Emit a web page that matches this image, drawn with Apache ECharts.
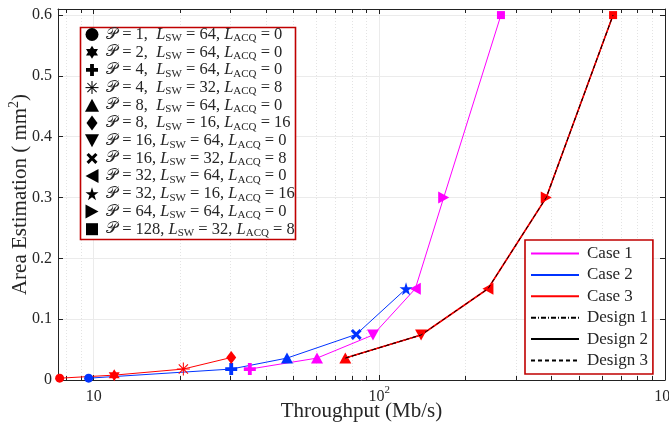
<!DOCTYPE html>
<html>
<head>
<meta charset="utf-8">
<script src="https://cdn.jsdelivr.net/npm/echarts@6/dist/echarts.min.js"></script>
<style>
html,body{margin:0;padding:0;background:#fff;}
#chart{width:669px;height:426px;}
</style>
</head>
<body>
<div id="chart"></div>
<script>
// ---------------- data ----------------
const case1X = [35.2, 60.5, 95, 133.6, 168, 266.5];
const case1Y = [0.018, 0.036, 0.074, 0.15, 0.3, 0.6];
const case1Sym = ['plus', 'triUp', 'triDown', 'triLeft', 'triRight', 'square'];

const case2X = [9.6, 30.3, 47.5, 83, 124];
const case2Y = [0.003, 0.018, 0.036, 0.075, 0.15];
const case2Sym = ['circle', 'plus', 'triUp', 'cross', 'star5'];

const case3aX = [7.6, 11.8, 20.6, 30.3];
const case3aY = [0.003, 0.008, 0.018, 0.037];
const case3aSym = ['circle', 'hexagram', 'asterisk', 'diamond'];

const case3bX = [76, 140, 240, 384, 658];
const case3bY = [0.036, 0.074, 0.15, 0.3, 0.6];
const case3bSym = ['triUp', 'triDown', 'triLeft', 'triRight', 'square'];

const designX = [76, 140, 240, 384, 658];
const designY = [0.036, 0.074, 0.15, 0.3, 0.6];

const legendP = [1, 2, 4, 4, 8, 8, 16, 16, 32, 32, 64, 128];
const legendSW = [64, 64, 64, 32, 64, 16, 64, 32, 64, 16, 64, 32];
const legendACQ = [0, 0, 0, 8, 0, 16, 0, 8, 0, 16, 0, 8];
const legendSym = ['circle', 'hexagram', 'plus', 'asterisk', 'triUp', 'diamond', 'triDown', 'cross', 'triLeft', 'star5', 'triRight', 'square'];

const lineNames = ['Case 1', 'Case 2', 'Case 3', 'Design 1', 'Design 2', 'Design 3'];
const yTicks = [0, 0.1, 0.2, 0.3, 0.4, 0.5, 0.6];
const xMinorTicks = [8, 9, 20, 30, 40, 50, 60, 70, 80, 90, 200, 300, 400, 500, 600, 700, 800, 900];

// ---------------- styling ----------------
const SERIF = "'Liberation Serif','DejaVu Serif',serif";
const TXT = '#262626';
const C1 = '#ff00ff', C2 = '#0033ff', C3 = '#ff0000';
const X_MIN = 7.5, X_MAX = 1000, Y_MIN = 0, Y_MAX = 0.61;

// marker shapes as polygons in a [-1,1] box (circle handled separately)
const SYM = {
  circle:   { polys: null, plot: [9, 9], leg: [13, 13] },
  hexagram: { polys: [[[0,-1],[0.289,-0.5],[0.866,-0.5],[0.577,0],[0.866,0.5],[0.289,0.5],[0,1],[-0.289,0.5],[-0.866,0.5],[-0.577,0],[-0.866,-0.5],[-0.289,-0.5]]], plot: [11, 12], leg: [12, 13] },
  plus:     { polys: [[[-0.32,-1],[0.32,-1],[0.32,-0.32],[1,-0.32],[1,0.32],[0.32,0.32],[0.32,1],[-0.32,1],[-0.32,0.32],[-1,0.32],[-1,-0.32],[-0.32,-0.32]]], plot: [12, 12], leg: [12, 12] },
  asterisk: { polys: [
      [[-0.08,-1],[0.08,-1],[0.08,1],[-0.08,1]],
      [[-1,-0.08],[1,-0.08],[1,0.08],[-1,0.08]],
      [[-0.651,-0.764],[0.764,0.651],[0.651,0.764],[-0.764,-0.651]],
      [[-0.764,0.651],[0.651,-0.764],[0.764,-0.651],[-0.651,0.764]]
    ], plot: [13, 13], leg: [13, 13] },
  triUp:    { polys: [[[0,-1],[1,1],[-1,1]]], plot: [12, 11], leg: [14, 13] },
  triDown:  { polys: [[[-1,-1],[1,-1],[0,1]]], plot: [12, 11], leg: [14, 13] },
  triLeft:  { polys: [[[1,-1],[1,1],[-1,0]]], plot: [11, 12], leg: [13, 14] },
  triRight: { polys: [[[-1,-1],[1,0],[-1,1]]], plot: [11, 12], leg: [13, 14] },
  diamond:  { polys: [[[0,-1],[1,0],[0,1],[-1,0]]], plot: [10, 13], leg: [11, 15] },
  cross:    { polys: [[[-1,-0.6],[-0.6,-1],[0,-0.4],[0.6,-1],[1,-0.6],[0.4,0],[1,0.6],[0.6,1],[0,0.4],[-0.6,1],[-1,0.6],[-0.4,0]]], plot: [11, 11], leg: [11, 11] },
  star5:    { polys: [[[0,-1],[0.2245,-0.309],[0.951,-0.309],[0.363,0.118],[0.588,0.809],[0,0.382],[-0.588,0.809],[-0.363,0.118],[-0.951,-0.309],[-0.2245,-0.309]]], plot: [13, 13], leg: [13, 13] },
  square:   { polys: [[[-1,-1],[1,-1],[1,1],[-1,1]]], plot: [8, 8], leg: [12, 12] }
};

function symPath(name) {
  const s = SYM[name];
  if (!s.polys) return 'circle';
  return 'path://' + s.polys.map(p => 'M' + p.map(q => q[0] + ',' + q[1]).join('L') + 'Z').join(' ');
}

function pts(xs, ys, syms) {
  return xs.map((x, i) => {
    const item = { value: [x, ys[i]] };
    if (syms) {
      item.symbol = symPath(syms[i]);
      item.symbolSize = SYM[syms[i]].plot;
    }
    return item;
  });
}

function lineSeries(name, color, data, type, width, z) {
  return {
    name: name, type: 'line', data: data, symbol: 'none',
    xAxisIndex: 0, yAxisIndex: 0, z: z, animation: false,
    lineStyle: { color: color, width: width, type: type },
    itemStyle: { color: color, borderWidth: 0 },
    emphasis: { disabled: true }
  };
}

// ---------------- legend 1 (graphic) ----------------
const legTop = 34.5, legStep = 17.7, legMarkX = 92;
const legendGraphics = [{
  type: 'rect', shape: { x: 80.5, y: 27.5, width: 215, height: 212 },
  style: { fill: '#fff', stroke: '#c00000', lineWidth: 1.6 }, z: 100
}];
legendP.forEach((p, i) => {
  const cy = legTop + i * legStep;
  const s = SYM[legendSym[i]];
  const hw = s.leg[0] / 2, hh = s.leg[1] / 2;
  if (!s.polys) {
    legendGraphics.push({ type: 'circle', z: 101, shape: { cx: legMarkX, cy: cy, r: hw }, style: { fill: '#000' } });
  } else {
    let minX = 1e9, maxX = -1e9, minY = 1e9, maxY = -1e9;
    s.polys.forEach(pl => pl.forEach(q => {
      minX = Math.min(minX, q[0]); maxX = Math.max(maxX, q[0]);
      minY = Math.min(minY, q[1]); maxY = Math.max(maxY, q[1]);
    }));
    s.polys.forEach(pl => {
      legendGraphics.push({
        type: 'polygon', z: 101,
        shape: { points: pl.map(q => [legMarkX - hw + (q[0] - minX) / (maxX - minX) * 2 * hw, cy - hh + (q[1] - minY) / (maxY - minY) * 2 * hh]) },
        style: { fill: '#000' }
      });
    });
  }
  const txt = '{p|\uD835\uDCAB}{t| = ' + p + ',' + (p < 10 ? '  ' : ' ') + '}{i|L}{s|SW}{t| = ' + legendSW[i] + ', }{i|L}{s|ACQ}{t| = ' + legendACQ[i] + '}';
  legendGraphics.push({
    type: 'text', z: 101, x: 106, y: cy,
    style: {
      text: txt, verticalAlign: 'middle', fill: TXT,
      rich: {
        p: { fontFamily: "'DejaVu Serif','DejaVu Sans','Noto Sans',serif", fontSize: 15.5, lineHeight: 19, fill: TXT },
        t: { fontFamily: SERIF, fontSize: 16.5, lineHeight: 19, fill: TXT },
        i: { fontFamily: SERIF, fontStyle: 'italic', fontSize: 16.5, lineHeight: 19, fill: TXT },
        s: { fontFamily: SERIF, fontSize: 11, lineHeight: 19, verticalAlign: 'bottom', fill: TXT }
      }
    }
  });
});

// ---------------- chart ----------------
const chart = echarts.init(document.getElementById('chart'), null, { renderer: 'canvas' });

function crisp(v) { return Math.round(v) + 0.5; }

const option = {
  animation: false,
  backgroundColor: '#fff',
  grid: { left: 58, right: 4, top: 9, bottom: 46, containLabel: false, outerBoundsMode: 'none' },
  xAxis: [{
    type: 'log', logBase: 10, min: X_MIN, max: X_MAX, position: 'bottom',
    axisLine: { show: true, onZero: false, lineStyle: { color: '#222', width: 1 } },
    axisTick: { show: true, inside: true, length: 5, lineStyle: { color: '#222' } },
    splitLine: { show: true, lineStyle: { color: '#ebebeb', width: 1 } },
    axisLabel: {
      show: true, showMinLabel: false, margin: 5, color: TXT,
      formatter: function (v) {
        const e = Math.log10(v);
        if (Math.abs(e - Math.round(e)) > 1e-6) return '';
        const n = Math.round(e);
        return n === 1 ? '{n|10}' : '{n|10}{s|' + n + '}';
      },
      rich: {
        n: { fontFamily: SERIF, fontSize: 16, color: TXT, lineHeight: 20, verticalAlign: 'bottom' },
        s: { fontFamily: SERIF, fontSize: 11, color: TXT, lineHeight: 20, verticalAlign: 'top' }
      }
    },
    name: 'Throughput (Mb/s)', nameLocation: 'middle', nameGap: 21, nameMoveOverlap: false,
    nameTextStyle: { fontFamily: SERIF, fontSize: 21, color: TXT }
  }, {
    type: 'log', logBase: 10, min: X_MIN, max: X_MAX, position: 'top',
    axisLine: { show: true, onZero: false, lineStyle: { color: '#222', width: 1 } },
    axisTick: { show: true, inside: true, length: 5, lineStyle: { color: '#222' } },
    splitLine: { show: false }, axisLabel: { show: false }
  }],
  yAxis: [{
    type: 'value', min: Y_MIN, max: Y_MAX, interval: 0.1, position: 'left',
    axisLine: { show: true, onZero: false, lineStyle: { color: '#222', width: 1 } },
    axisTick: { show: true, inside: true, length: 5, lineStyle: { color: '#222' } },
    splitLine: { show: true, lineStyle: { color: '#ebebeb', width: 1 } },
    axisLabel: {
      show: true, showMaxLabel: false, margin: 6, color: TXT, fontFamily: SERIF, fontSize: 16,
      formatter: function (v) {
        for (const t of yTicks) { if (Math.abs(v - t) < 1e-9) return t === 0 ? '0' : t.toFixed(1); }
        return '';
      }
    },
    name: '{a|Area Estimation ( mm}{s|2}{a|)}', nameLocation: 'middle', nameGap: 25, nameMoveOverlap: false,
    nameTextStyle: {
      color: TXT,
      rich: {
        a: { fontFamily: SERIF, fontSize: 21, color: TXT, lineHeight: 26 },
        s: { fontFamily: SERIF, fontSize: 14, color: TXT, lineHeight: 26, verticalAlign: 'top' }
      }
    }
  }, {
    type: 'value', min: Y_MIN, max: Y_MAX, interval: 0.1, position: 'right',
    axisLine: { show: true, onZero: false, lineStyle: { color: '#222', width: 1 } },
    axisTick: { show: true, inside: true, length: 5, lineStyle: { color: '#222' } },
    splitLine: { show: false }, axisLabel: { show: false }
  }],
  legend: {
    data: lineNames, orient: 'vertical', left: 525, top: 240,
    padding: [5, 5, 5, 5], itemWidth: 48, itemHeight: 12, itemGap: 4.4,
    backgroundColor: '#fff', borderColor: '#c00000', borderWidth: 1.6, borderRadius: 0,
    selectedMode: false, z: 100,
    itemStyle: { color: 'rgba(0,0,0,0)', borderWidth: 0, opacity: 0 },
    textStyle: { fontFamily: SERIF, fontSize: 17, color: TXT, lineHeight: 17, padding: [0, 0, 0, 3] }
  },
  graphic: legendGraphics,
  series: [
    {
      type: 'custom', name: 'minorTicks', xAxisIndex: 0, yAxisIndex: 0, silent: true, z: 1,
      data: xMinorTicks.map(v => [v, Y_MIN]),
      encode: { x: 0, y: 1 },
      renderItem: function (params, api) {
        const v = api.value(0);
        const pb = api.coord([v, Y_MIN]);
        const pt = api.coord([v, Y_MAX]);
        const x = crisp(pb[0]);
        return {
          type: 'group', children: [
            { type: 'line', shape: { x1: x, y1: pt[1], x2: x, y2: pb[1] }, style: { stroke: '#e3e3e3', lineWidth: 1, lineDash: [1, 2] } },
            { type: 'line', shape: { x1: x, y1: pb[1], x2: x, y2: pb[1] - 4 }, style: { stroke: '#222', lineWidth: 1 } },
            { type: 'line', shape: { x1: x, y1: pt[1], x2: x, y2: pt[1] + 4 }, style: { stroke: '#222', lineWidth: 1 } }
          ]
        };
      }
    },
    lineSeries('Design 2', '#000', pts(designX, designY), 'solid', 1, 3),
    lineSeries('Design 1', '#000', pts(designX, designY), [5, 2, 1, 2], 1, 3),
    lineSeries('Case 1', C1, pts(case1X, case1Y, case1Sym), 'solid', 1, 4),
    lineSeries('Case 2', C2, pts(case2X, case2Y, case2Sym), 'solid', 1, 4),
    lineSeries('Case 3', C3, pts(case3aX, case3aY, case3aSym), 'solid', 1, 4),
    lineSeries('Case 3', C3, pts(case3bX, case3bY, case3bSym), 'solid', 1.6, 4),
    lineSeries('Design 3', '#000', pts(designX, designY), [4, 3], 1, 5)
  ]
};
chart.setOption(option);
</script>
</body>
</html>
